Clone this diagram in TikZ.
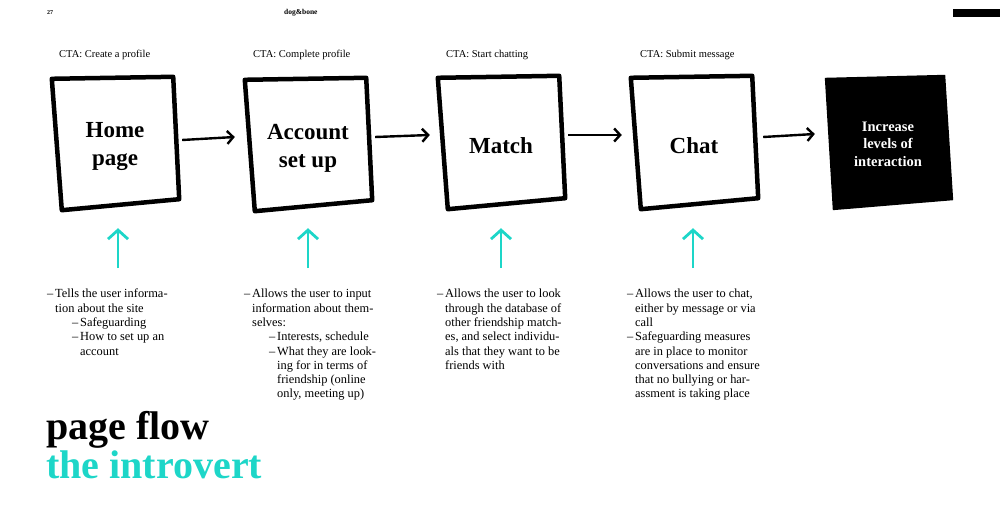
\documentclass[tikz,border=0pt]{standalone}
\usepackage{fontspec}
\setmainfont{Liberation Serif}
\usetikzlibrary{arrows.meta,calc,backgrounds}

\definecolor{introcyan}{RGB}{29,214,200}
\tikzset{
  sketchbox/.style={minimum width=124pt, minimum height=130pt, inner sep=0,
                    font=\bfseries\fontsize{23}{28}\selectfont, align=center},
  boxline/.style={line width=4.5pt, line join=round, line cap=round},
  flow arrow/.style={-{Straight Barb[length=6pt,width=13pt]}, line width=2.4pt},
  up arrow/.style={-{Straight Barb[length=9pt,width=20pt]}, introcyan, line width=2.8pt},
  cta/.style={font=\fontsize{10.5}{12}\selectfont, anchor=west, inner sep=0},
  note/.style={font=\fontsize{12.4}{14.3}\selectfont, align=left,
               anchor=north west, inner sep=0},
}
\newcommand{\nd}{\makebox[8pt][l]{–}}
\newcommand{\nh}{\hspace*{8pt}}
\newcommand{\nn}{\hspace*{25pt}}

\begin{document}
\begin{tikzpicture}[x=1pt, y=-1pt]
  \useasboundingbox (0,0) rectangle (1000,526);

  % header
  \node[inner sep=0, anchor=west, font=\bfseries\fontsize{6}{7}\selectfont] (pageno) at (47,13) {27};
  \node[inner sep=0, anchor=west, font=\bfseries\fontsize{7.5}{8}\selectfont] (brand) at (284,13) {dog\&bone};
  \fill (953,9) rectangle (1000,17);

  % calls to action
  \node[cta] (cta1) at (59,55) {CTA: Create a profile};
  \node[cta] (cta2) at (253,55) {CTA: Complete profile};
  \node[cta] (cta3) at (446,55) {CTA: Start chatting};
  \node[cta] (cta4) at (640,55) {CTA: Submit message};

  % pages
  \node[sketchbox] (home) at (115,147) {Home\\page};
  \node[sketchbox] (acct) at (308,148) {Account\\set up};
  \node[sketchbox] (match) at (501,146) {Match};
  \node[sketchbox] (chat) at (694,146) {Chat};
  \node[sketchbox, font=\bfseries\fontsize{14.5}{17.5}\selectfont, text=white] (goal) at (888,144)
       {Increase\\levels of\\interaction};

  % hand drawn outlines
  \foreach \b in {home,acct,match,chat} {
    \draw[boxline] ([shift={(-1,-3)}]\b.north west) -- ([shift={(-4,-5)}]\b.north east)
      -- ([shift={(2,-13)}]\b.south east) -- ([shift={(9,-2)}]\b.south west) -- cycle;
  }
  \begin{scope}[on background layer]
    \fill ([shift={(-1,-1)}]goal.north west) -- ([shift={(-5,-4)}]goal.north east)
        -- ([shift={(3,-9)}]goal.south east) -- ([shift={(7,1)}]goal.south west) -- cycle;
  \end{scope}

  % flow
  \draw[flow arrow] ([shift={(5,-7)}]home.east) -- ([shift={(-11,-11)}]acct.west);
  \draw[flow arrow] ([shift={(5,-11)}]acct.east) -- ([shift={(-9,-11)}]match.west);
  \draw[flow arrow] ([shift={(5,-11)}]match.east) -- ([shift={(-10,-11)}]chat.west);
  \draw[flow arrow] ([shift={(7,-9)}]chat.east) -- ([shift={(-11,-10)}]goal.west);

  % notes
  \node[note] (homenote) at (47,289) {%
    \nd Tells the user informa-\\
    \nh tion about the site\\
    \nn\nd Safeguarding\\
    \nn\nd How to set up an\\
    \nn\nh account};
  \node[note] (acctnote) at (244,289) {%
    \nd Allows the user to input\\
    \nh information about them-\\
    \nh selves:\\
    \nn\nd Interests, schedule\\
    \nn\nd What they are look-\\
    \nn\nh ing for in terms of\\
    \nn\nh friendship (online\\
    \nn\nh only, meeting up)};
  \node[note] (matchnote) at (437,289) {%
    \nd Allows the user to look\\
    \nh through the database of\\
    \nh other friendship match-\\
    \nh es, and select individu-\\
    \nh als that they want to be\\
    \nh friends with};
  \node[note] (chatnote) at (627,289) {%
    \nd Allows the user to chat,\\
    \nh either by message or via\\
    \nh call\\
    \nd Safeguarding measures\\
    \nh are in place to monitor\\
    \nh conversations and ensure\\
    \nh that no bullying or har-\\
    \nh assment is taking place};

  % links from notes to pages
  \draw[up arrow] ([shift={(3,56)}]home.south) -- ([shift={(3,16)}]home.south);
  \draw[up arrow] ([shift={(0,55)}]acct.south) -- ([shift={(0,15)}]acct.south);
  \draw[up arrow] ([shift={(0,57)}]match.south) -- ([shift={(0,17)}]match.south);
  \draw[up arrow] ([shift={(-1,57)}]chat.south) -- ([shift={(-1,17)}]chat.south);

  % title
  \node[inner sep=0, anchor=base west, font=\bfseries\fontsize{40}{44}\selectfont] (title) at (46,439) {page flow};
  \node[inner sep=0, anchor=base west, font=\bfseries\fontsize{40}{44}\selectfont, text=introcyan] (subtitle) at (46,478) {the introvert};
\end{tikzpicture}
\end{document}
